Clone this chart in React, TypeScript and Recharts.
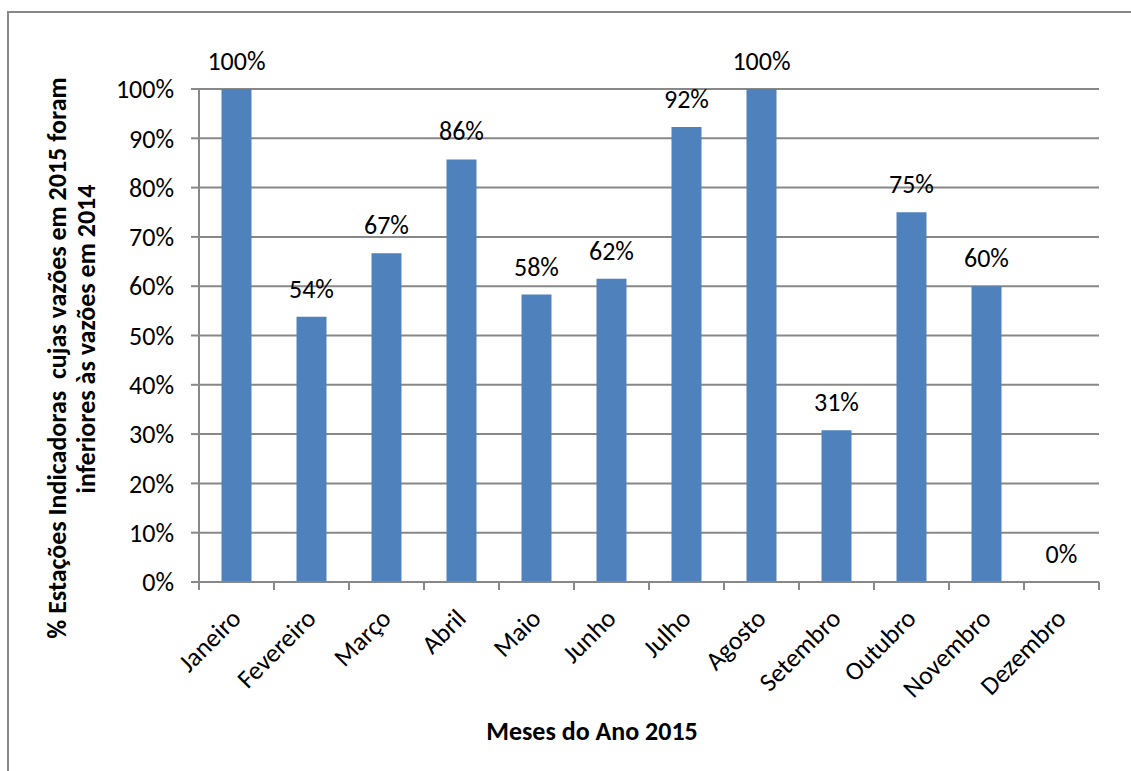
import React from 'react';
import { ComposedChart, Bar, Line, XAxis, YAxis, CartesianGrid, LabelList } from 'recharts';

const months = ['Janeiro', 'Fevereiro', 'Março', 'Abril', 'Maio', 'Junho', 'Julho', 'Agosto', 'Setembro', 'Outubro', 'Novembro', 'Dezembro'];
const percentBelow = [100, 53.8, 66.7, 85.7, 58.3, 61.5, 92.3, 100, 30.8, 75, 60, 0];
const yTicks = [0, 10, 20, 30, 40, 50, 60, 70, 80, 90, 100];

const yTitleLines = ['% Estações Indicadoras  cujas vazões em 2015 foram', 'inferiores às vazões em 2014'];
const xTitle = 'Meses do Ano 2015';

const FONT = 'Calibri, Carlito, Lato, sans-serif';
const GRID = '#888888';
const BAR = '#4F81BD';
const BAND = 75;
const FS = 26;

const data = months.map((m, i) => ({ month: m, value: percentBelow[i] }));

const MonthTick = (props: any) => {
  const { x, y, payload, index } = props;
  const last = index === months.length - 1;
  return (
    <g>
      <line x1={x - BAND / 2} x2={x - BAND / 2} y1={y} y2={y + 8} stroke={GRID} strokeWidth={2} />
      {last && <line x1={x + BAND / 2} x2={x + BAND / 2} y1={y} y2={y + 8} stroke={GRID} strokeWidth={2} />}
      <text
        x={x + 6}
        y={y + 38}
        textAnchor="end"
        transform={`rotate(-45 ${x + 6} ${y + 38})`}
        fontSize={FS}
        fontFamily={FONT}
        fill="#000"
      >
        {payload.value}
      </text>
    </g>
  );
};

const YTitle = () => (
  <g>
    <text x={48} y={345} transform="rotate(-90 48 345)" textAnchor="middle" dominantBaseline="central"
      fontSize={FS} fontWeight="bold" fontFamily={FONT} fill="#000" style={{ whiteSpace: 'pre' }}>
      {yTitleLines[0]}
    </text>
    <text x={77} y={326} transform="rotate(-90 77 326)" textAnchor="middle" dominantBaseline="central"
      fontSize={FS} fontWeight="bold" fontFamily={FONT} fill="#000">
      {yTitleLines[1]}
    </text>
  </g>
);

const XTitle = () => (
  <text x={583} y={727} textAnchor="middle" fontSize={FS} fontWeight="bold" fontFamily={FONT} fill="#000">
    {xTitle}
  </text>
);

export default function App() {
  return (
    <div style={{
      position: 'absolute',
      left: 7,
      top: 11,
      width: 1122,
      height: 758,
      borderLeft: `2px solid ${GRID}`,
      borderTop: `2px solid ${GRID}`,
      background: '#fff',
    }}>
      <ComposedChart width={1120} height={756} data={data} margin={{ top: 76, right: 30, left: 0, bottom: 0 }} barCategoryGap="30%">
        <CartesianGrid vertical={false} stroke={GRID} strokeWidth={2} />
        <XAxis
          dataKey="month"
          height={187}
          interval={0}
          tickLine={false}
          tickSize={0}
          tickMargin={0}
          tick={<MonthTick />}
          axisLine={{ stroke: GRID, strokeWidth: 2 }}
          label={<XTitle />}
        />
        <YAxis
          width={190}
          domain={[0, 100]}
          ticks={yTicks}
          interval={0}
          tickFormatter={(v: number) => `${v}%`}
          tickSize={8}
          tickMargin={17}
          tickLine={{ stroke: GRID, strokeWidth: 2 }}
          axisLine={{ stroke: GRID, strokeWidth: 2 }}
          tick={{ fontSize: FS, fontFamily: FONT, fill: '#000' }}
          label={<YTitle />}
        />
        <Bar dataKey="value" fill={BAR} isAnimationActive={false} />
        <Line dataKey="value" stroke="none" dot={false} activeDot={false} isAnimationActive={false}>
          <LabelList
            dataKey="value"
            position="top"
            offset={19}
            formatter={(v: any) => `${Math.round(Number(v))}%`}
            style={{ fontSize: FS, fontFamily: FONT, fill: '#000' }}
          />
        </Line>
      </ComposedChart>
    </div>
  );
}
